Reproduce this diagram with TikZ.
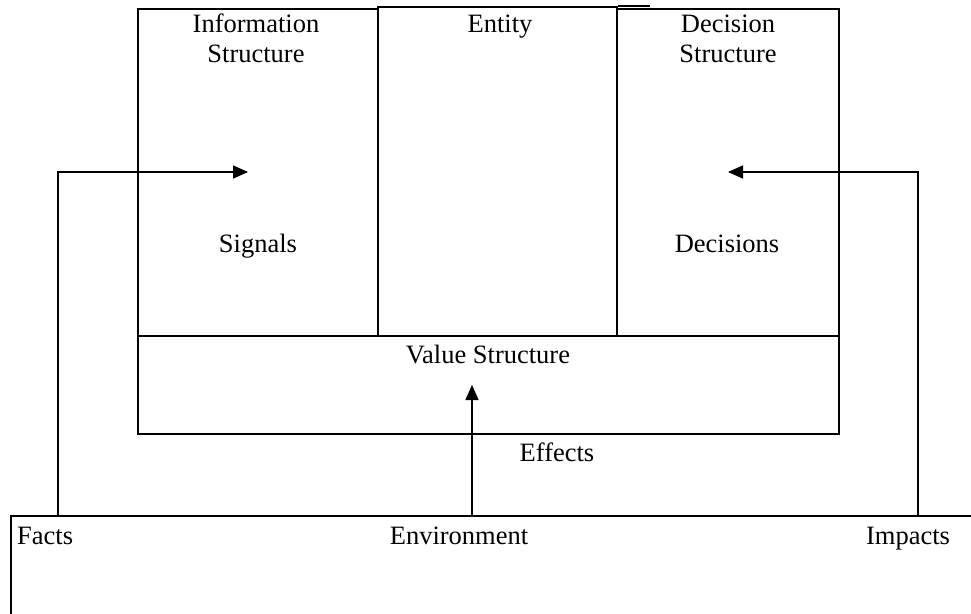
\documentclass[tikz,border=0pt]{standalone}
\usepackage{fontspec}
\setmainfont{Liberation Serif}
\usetikzlibrary{arrows.meta}
\tikzstyle{block}=[draw,line width=1.5pt,rectangle,inner sep=0pt,anchor=north west]
\tikzstyle{caption}=[anchor=base,align=center,inner sep=0pt,font=\fontsize{26.5}{30}\selectfont]
\tikzstyle{flow}=[draw,line width=1.5pt,-{Triangle[length=15pt,width=13pt]}]

\begin{document}
\begin{tikzpicture}[x=1pt,y=-1pt]
    \useasboundingbox (0,0) rectangle (971,613);
    % Boxes: three columns, the value strip under them, the environment at the bottom
    \foreach \pos/\w/\h/\name in {{(137,8)/240/327/info}, {(377,6)/239/329/entity}, {(616,8)/222/327/decision}, {(137,335)/701/98/value}, {(10,515)/975/100/env}}
        \node[block,minimum width=\w,minimum height=\h] (\name) at \pos {};
    \draw[line width=1.5pt] (entity.north east) -- ++(32,0);

    % Then the captions (two-line ones sit on their last line)
    \foreach \pos/\txt/\name in {{(256,62)/Information\\Structure/infolabel}, {(500,32)/Entity/entitylabel}, {(728,62)/Decision\\Structure/decisionlabel}, {(258,252)/Signals/signals}, {(727,252)/Decisions/decisions}, {(488,363)/Value Structure/valuelabel}, {(557,461)/Effects/effects}, {(459,544)/Environment/environment}, {(908,544)/Impacts/impacts}}
        \node[caption] (\name) at \pos {\txt};
    \node[caption,anchor=base west] (facts) at (17,544) {Facts};

    % Flows out of the environment
    \coordinate (factsfoot) at (58,515);
    \coordinate (signalin) at (248,172);
    \coordinate (impactsfoot) at (918,515);
    \coordinate (decisionin) at (728,172);
    \coordinate (envfoot) at (472,515);
    \coordinate (effectin) at (472,385);
    \path[flow] (factsfoot) |- (signalin);
    \path[flow] (impactsfoot) |- (decisionin);
    \path[flow] (envfoot) -- (effectin);
\end{tikzpicture}
\end{document}
